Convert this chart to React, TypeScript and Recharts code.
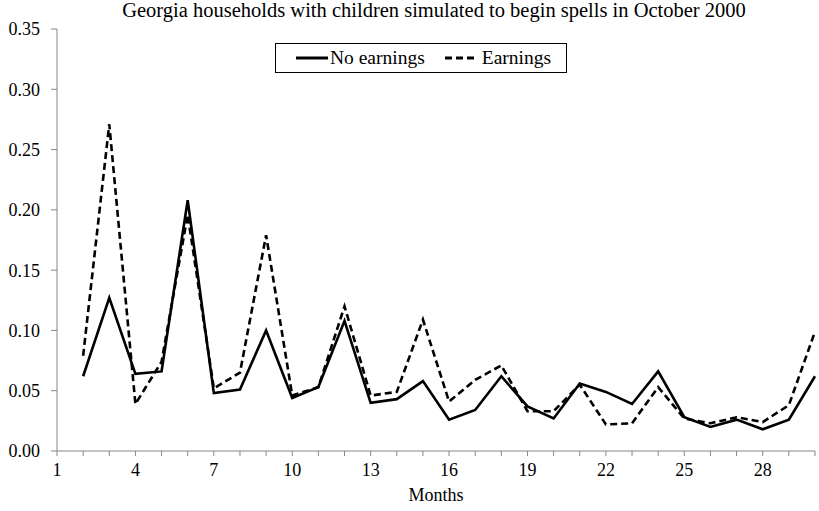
import { Line, LineChart, XAxis, YAxis } from 'recharts';

const months = [2, 3, 4, 5, 6, 7, 8, 9, 10, 11, 12, 13, 14, 15, 16, 17, 18, 19, 20, 21, 22, 23, 24, 25, 26, 27, 28, 29, 30];
const noEarnings = [0.062, 0.127, 0.064, 0.066, 0.208, 0.048, 0.051, 0.1, 0.044, 0.053, 0.108, 0.04, 0.043, 0.058, 0.026, 0.034, 0.062, 0.037, 0.027, 0.056, 0.049, 0.039, 0.066, 0.028, 0.02, 0.026, 0.018, 0.026, 0.062];
const earnings = [0.079, 0.271, 0.039, 0.074, 0.196, 0.052, 0.065, 0.179, 0.046, 0.053, 0.12, 0.046, 0.049, 0.109, 0.041, 0.059, 0.071, 0.033, 0.033, 0.055, 0.022, 0.023, 0.053, 0.027, 0.023, 0.028, 0.024, 0.038, 0.099];
const xTicks = [1, 2, 3, 4, 5, 6, 7, 8, 9, 10, 11, 12, 13, 14, 15, 16, 17, 18, 19, 20, 21, 22, 23, 24, 25, 26, 27, 28, 29, 30];
const yTicks = [0, 0.05, 0.1, 0.15, 0.2, 0.25, 0.3, 0.35];
const title = 'Georgia households with children simulated to begin spells in October 2000';

const data = months.map((m, i) => ({ month: m, noEarnings: noEarnings[i], earnings: earnings[i] }));

const font = "'Liberation Serif', 'DejaVu Serif', serif";

function XTick(props: any) {
    const { x, y, payload } = props;
    if ((payload.value - 1) % 3 !== 0) return <g />;
    return (
        <text x={x} y={y} dy={14} textAnchor="middle" fontSize={18} style={{ fontFamily: font }} fill="#000">
            {payload.value}
        </text>
    );
}

export default function App() {
    return (
        <div style={{ position: 'absolute', left: 0, top: 0, width: 819, height: 511, background: '#fff', fontFamily: font }}>
            <LineChart width={819} height={511} data={data} margin={{ top: 29, right: 4, left: 0, bottom: 30 }} style={{ fontFamily: font }}>
                <XAxis
                    dataKey="month"
                    type="number"
                    domain={[1, 30]}
                    ticks={xTicks}
                    interval={0}
                    tick={<XTick />}
                    tickSize={5}
                    tickMargin={6}
                    height={30}
                    stroke="#868686"
                    label={{ value: 'Months', position: 'bottom', offset: 7, fontSize: 18, fill: '#000', style: { fontFamily: font } }}
                />
                <YAxis
                    domain={[0, 0.35]}
                    ticks={yTicks}
                    interval={0}
                    width={57}
                    tickSize={6}
                    tickMargin={11}
                    stroke="#868686"
                    tickFormatter={(v: number) => v.toFixed(2)}
                    tick={{ fontSize: 18, fill: '#000', style: { fontFamily: font } }}
                />
                <Line dataKey="noEarnings" name="No earnings" stroke="#000" strokeWidth={2.6} dot={false} isAnimationActive={false} />
                <Line dataKey="earnings" name="Earnings" stroke="#000" strokeWidth={2.6} strokeDasharray="7 4" dot={false} isAnimationActive={false} />
            </LineChart>
            <div style={{ position: 'absolute', left: 0, top: -1, width: 868, textAlign: 'center', fontSize: 20.5, color: '#000', whiteSpace: 'nowrap' }}>
                {title}
            </div>
            <div style={{ position: 'absolute', left: 275, top: 43, width: 292, height: 30, boxSizing: 'border-box', border: '1px solid #000', fontSize: 19.5, display: 'flex', alignItems: 'center', paddingLeft: 20, background: '#fff', whiteSpace: 'nowrap' }}>
                <svg width={32} height={4}><line x1={0} y1={2} x2={32} y2={2} stroke="#000" strokeWidth={3} /></svg>
                <span style={{ marginLeft: 2 }}>No earnings</span>
                <svg width={31} height={4} style={{ marginLeft: 20 }}><line x1={0} y1={2} x2={31} y2={2} stroke="#000" strokeWidth={3} strokeDasharray="7 4" /></svg>
                <span style={{ marginLeft: 6 }}>Earnings</span>
            </div>
        </div>
    );
}
